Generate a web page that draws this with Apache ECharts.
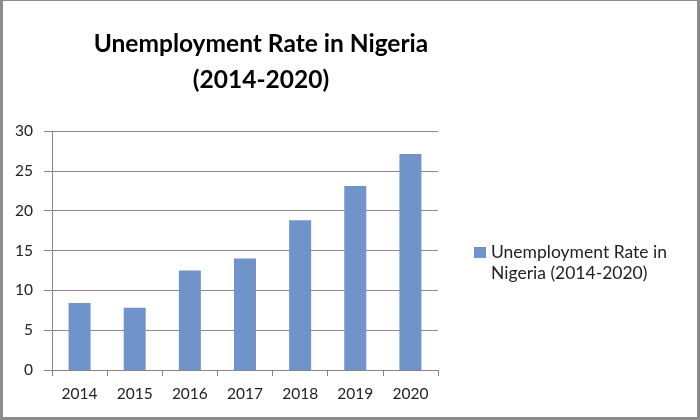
<!DOCTYPE html>
<html>
<head>
<meta charset="utf-8">
<script src="https://cdn.jsdelivr.net/npm/echarts@6/dist/echarts.min.js"></script>
<style>html,body{margin:0;padding:0;background:#fff}#c{width:700px;height:420px}</style>
</head>
<body>
<div id="c"></div>
<script>
const titleText = "Unemployment Rate in Nigeria\n(2014-2020)";
const seriesName = "Unemployment Rate in Nigeria (2014-2020)";
const legendLines = ["Unemployment Rate in", "Nigeria (2014-2020)"];
const categories = ["2014", "2015", "2016", "2017", "2018", "2019", "2020"];
const values = [8.4, 7.8, 12.5, 14.0, 18.8, 23.1, 27.1];
const yTicks = [0, 5, 10, 15, 20, 25, 30];

const chart = echarts.init(document.getElementById('c'), null, {renderer: 'canvas'});
const font = "Lato, 'Open Sans', sans-serif";
chart.setOption({
  backgroundColor: '#fff',
  animation: false,
  title: {
    text: titleText,
    left: 256, top: 21, textAlign: 'center',
    textStyle: {fontFamily: font, fontSize: 24.5, fontWeight: 'bold', color: '#000', lineHeight: 36}
  },
  legend: {
    left: 474, top: 221, padding: 0,
    data: [{name: seriesName}],
    itemWidth: 12, itemHeight: 11, itemGap: 2,
    icon: 'rect',
    formatter: () => '{e| }\n{a|' + legendLines[0] + '}\n{a|' + legendLines[1] + '}',
    textStyle: {fontFamily: font, fontSize: 17, color: '#222', lineHeight: 21,
      rich: {a: {fontFamily: font, fontSize: 17.5, color: '#222', lineHeight: 21},
             e: {fontSize: 17, lineHeight: 21}}}
  },
  grid: {left: 52, right: 262, top: 131, bottom: 50, containLabel: false},
  xAxis: {
    type: 'category',
    data: categories,
    boundaryGap: true,
    axisLine: {lineStyle: {color: '#868686', width: 1}},
    axisTick: {show: true, length: 6, lineStyle: {color: '#868686'}, alignWithLabel: false},
    axisLabel: {fontFamily: font, fontSize: 15.5, color: '#222', margin: 16}
  },
  yAxis: {
    type: 'value',
    min: 0, max: 30, interval: 5,
    axisLine: {show: true, lineStyle: {color: '#868686', width: 1}},
    axisTick: {show: true, length: 8, lineStyle: {color: '#868686'}},
    splitLine: {lineStyle: {color: '#8a8a8a', width: 1}},
    axisLabel: {fontFamily: font, fontSize: 15.5, color: '#222', margin: 19,
      formatter: v => yTicks.includes(v) ? String(v) : ''}
  },
  series: [{
    name: seriesName,
    type: 'bar',
    data: values,
    barWidth: 22,
    itemStyle: {color: '#7093c9'}
  }],
  graphic: [{
    type: 'rect', silent: true,
    shape: {x: 1.5, y: -0.5, width: 697, height: 419},
    style: {fill: 'none', stroke: '#8c8c8c', lineWidth: 3}
  }]
});
</script>
</body>
</html>
